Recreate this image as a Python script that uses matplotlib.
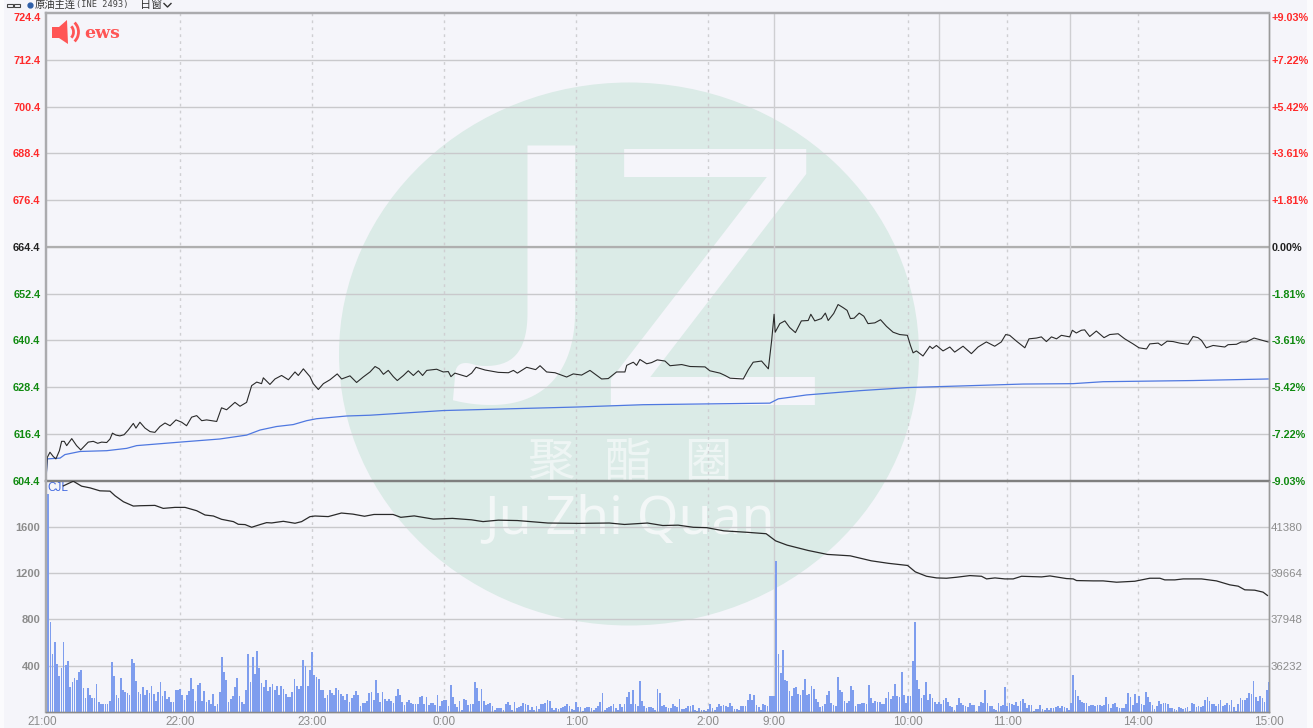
import numpy as np
import matplotlib
matplotlib.use("Agg")
import matplotlib.pyplot as plt
from matplotlib.patches import Ellipse, Rectangle, Polygon, Arc
from matplotlib.transforms import ScaledTranslation

# minutes of trading since 21:00
price_min = [0, 0.3, 0.6, 1.8, 3.3, 4.5, 6.1, 7.1, 8.3, 9.4, 11.7, 13.9, 15.8, 17.7, 19.2, 21.5, 23.5, 25.3, 27.6, 29.1,
             30.2, 31.8, 33.6, 35.5, 37.4, 39.7, 40.9, 42.7, 45, 47.3, 49.5, 51.8, 54.1, 56.4, 59.1, 61.7, 63.9, 66.2, 68.5, 70.8,
             73, 77.6, 79.8, 82.1, 85.9, 88.2, 91.2, 93.5, 95.8, 98, 98.8, 101.8, 104.1, 107.1, 110.2, 113.2, 114.7, 117, 120, 121.5,
             123.8, 126.1, 129.1, 132.4, 134.4, 138.2, 141.2, 144.2, 147.3, 149.6, 151.5, 153.4, 155.6, 157.9, 159.7, 162.5, 164.7, 167, 169.3, 171.2,
             173.1, 177.6, 180.6, 182.9, 184.1, 185.9, 191.2, 193.5, 195.5, 199.6, 205.6, 210.2, 212.5, 214.3, 218.5, 222.6, 224.6, 227.6, 231.4, 236.7,
             239.7, 243.5, 247.3, 252.6, 255.6, 259.4, 263.2, 264, 267, 268.5, 270, 273.1, 275.3, 277.9, 281.4, 283.7, 289, 292.8, 299.6, 301.8,
             306.4, 308.7, 311, 317, 319.3, 321.5, 325.3, 328.4, 329.9, 331, 331.5, 333.6, 335.9, 338.1, 340.7, 343.4, 346.5, 347.7, 349.5, 352.5,
             354.3, 355.6, 358.1, 360.1, 362.4, 364.2, 365.7, 367.4, 369.7, 371.8, 373.7, 376.8, 379.4, 382.1, 385.1, 388.1, 391.6, 393, 394.2, 395.7,
             398.7, 401.8, 403, 404.8, 407.8, 410.9, 413.1, 416.9, 420.7, 423.7, 427.5, 431.3, 434.3, 436.3, 438.1, 441.2, 445, 446.9, 450.3, 452.5,
             454.8, 457.1, 459.4, 461.6, 465.4, 466.6, 468.4, 470.7, 472.2, 474.5, 477.5, 481, 483.6, 487.4, 490.4, 494.2, 496.9, 500.3, 501.8, 505.6,
             507.1, 509.7, 512.4, 515.4, 519.2, 521.5, 523.7, 525.3, 527.5, 530.6, 535.9, 537.4, 541.2, 543.4, 545.7, 549.2, 551.8, 555.6]
price = [604.8, 607.4, 610.4, 611.7, 610.6, 610.0, 612.1, 614.5, 614.5, 613.4, 615.2, 613.4, 612.3, 613.4, 614.3, 614.5, 614.0, 614.3, 614.2, 615.1,
         616.6, 616.1, 615.9, 616.2, 617.4, 619.1, 617.9, 619.4, 617.9, 617.0, 616.8, 618.3, 619.2, 618.5, 620.0, 619.4, 618.5, 620.7, 621.1, 619.8,
         620.0, 619.6, 623.1, 622.6, 624.5, 623.5, 624.5, 628.8, 629.7, 629.3, 630.8, 629.1, 630.5, 631.4, 630.3, 632.3, 631.4, 633.1, 631.1, 629.3,
         627.8, 629.3, 630.3, 631.8, 630.5, 631.3, 629.6, 631.0, 632.3, 633.7, 633.1, 631.7, 632.7, 631.1, 630.1, 631.4, 632.6, 631.4, 632.6, 631.4,
         632.7, 633.0, 632.3, 632.4, 631.1, 632.0, 631.1, 632.0, 633.5, 632.8, 632.2, 632.1, 632.7, 632.0, 633.5, 632.9, 633.9, 632.3, 632.1, 631.0,
         631.8, 631.5, 632.7, 630.5, 630.6, 632.3, 632.3, 634.0, 634.8, 634.0, 635.5, 634.4, 634.7, 635.4, 635.1, 633.9, 634.2, 633.7, 633.6, 632.6,
         632.0, 631.4, 630.7, 630.5, 632.9, 634.8, 635.1, 633.1, 640.4, 647.1, 642.5, 644.7, 645.4, 643.7, 642.4, 645.4, 645.5, 647.1, 645.4, 646.0,
         647.4, 645.5, 647.3, 649.6, 648.8, 648.1, 646.0, 646.1, 647.4, 646.6, 644.7, 644.9, 645.7, 644.0, 642.5, 641.9, 641.7, 639.1, 637.2, 637.7,
         636.4, 638.9, 638.3, 639.1, 637.7, 638.7, 637.4, 638.9, 637.0, 638.7, 640.0, 638.9, 640.0, 641.9, 641.7, 640.2, 638.5, 640.8, 641.0, 641.3,
         640.1, 641.3, 640.8, 641.7, 641.3, 643.0, 642.3, 643.0, 643.1, 641.4, 642.8, 641.1, 641.9, 642.1, 640.8, 639.5, 638.5, 638.2, 639.5, 639.7,
         639.1, 640.2, 640.1, 639.7, 639.4, 641.4, 641.1, 640.4, 638.5, 639.1, 638.7, 639.3, 639.4, 640.0, 640.0, 641.0, 640.6, 640.0]

avg_min = [0, 0.6, 6.4, 8.6, 15.5, 27.6, 36.7, 41.2, 60.9, 79, 91.2, 97.3, 104.8, 112.4, 118.5, 123, 136.7, 147.3, 180.6, 241.2,
           271.5, 329.1, 332.9, 338.2, 345.7, 370, 391.9, 415.4, 444.2, 466.9, 480.6, 521.5, 555.6]
avg_price = [604.8, 610.0, 610.2, 611.1, 611.9, 612.1, 612.7, 613.4, 614.3, 615.1, 616.1, 617.4, 618.3, 618.8, 619.8, 620.3, 621.0, 621.2, 622.4, 623.3,
             623.9, 624.3, 625.4, 625.8, 626.4, 627.5, 628.3, 628.7, 629.2, 629.3, 629.8, 630.1, 630.5]

# open interest, right hand scale of the lower panel
oi_min = [7.9, 12.4, 16.2, 20, 24.5, 29.1, 31.4, 35.2, 39.7, 42.7, 49.5, 53.3, 58.6, 63.2, 68.5, 72.3, 76.1, 79.8, 85.2, 87.4,
          90.5, 93.5, 97.3, 100.3, 102.6, 107.9, 113.2, 116.2, 120, 122.3, 128.3, 134.3, 139.5, 144.8, 149.1, 157.8, 161.3, 167.4, 176.1, 184.8,
          193.4, 198.7, 205.6, 214.3, 228.2, 242.1, 256.1, 263, 273.4, 280.4, 287.4, 294.3, 300.4, 308.2, 318.7, 327.4, 331.7, 336.9, 346.5, 355.2,
          365.6, 375.2, 383, 391.7, 395.2, 400.3, 404.9, 409.4, 414, 420, 425.3, 427.6, 431.4, 435.9, 439.7, 443.5, 452.6, 456.4, 463.9, 467,
          468.5, 476.1, 480.6, 486.7, 495, 501.8, 506.4, 508.6, 513.2, 517, 525.3, 532.1, 538.2, 542, 545, 549.5, 553.3, 555.3]
oi = [42888, 43060, 42876, 42814, 42704, 42692, 42520, 42300, 42140, 42152, 42165, 42054, 42091, 42091, 41968, 41809, 41772, 41650, 41564, 41466,
      41454, 41355, 41454, 41527, 41515, 41576, 41503, 41564, 41748, 41772, 41750, 41882, 41842, 41763, 41829, 41829, 41723, 41776, 41657, 41684,
      41631, 41565, 41618, 41604, 41512, 41499, 41512, 41459, 41512, 41420, 41433, 41354, 41340, 41222, 41169, 41116, 40852, 40694, 40496, 40350,
      40298, 40113, 40020, 39941, 39704, 39541, 39480, 39468, 39505, 39566, 39541, 39443, 39480, 39443, 39443, 39541, 39517, 39554, 39456, 39443,
      39382, 39370, 39370, 39321, 39357, 39468, 39468, 39407, 39407, 39443, 39443, 39370, 39223, 39174, 39039, 39026, 38953, 38830]

# volume per minute, four stretches read one after the other
vol_night1 = [150, 1885, 778, 502, 600, 416, 307, 380, 608, 408, 436, 212, 255, 293, 278, 344, 365, 207, 120, 207, 150, 120, 120, 244, 83, 72, 72, 70, 72, 98,
              430, 313, 150, 120, 293, 192, 170, 165, 150, 460, 425, 270, 170, 158, 215, 150, 192, 165, 221, 155, 98, 170, 258, 140, 178, 112, 126, 89, 89, 192,
              192, 200, 143, 106, 143, 178, 293, 200, 92, 235, 250, 98, 178, 83, 106, 70, 158, 55, 70, 170, 476, 344, 273, 83, 112, 135, 212, 296, 135, 83,
              72, 192, 500, 258, 476, 330, 528, 382, 250, 212, 278, 178, 215, 241, 192, 227, 150, 221, 198, 158, 129, 129, 170, 284, 221, 200, 227, 445, 400, 221,
              365, 520, 316, 301, 284, 192, 187, 118, 150]
vol_night2 = [192, 164, 150, 207, 187, 155, 135, 106, 155, 83, 120, 150, 184, 144, 55, 80, 80, 98, 164, 169, 106, 273, 164, 83, 169, 115, 92, 112, 98, 77,
              135, 201, 150, 86, 63, 83, 106, 77, 69, 66, 66, 129, 141, 72, 126, 63, 77, 80, 63, 149, 49, 92, 103, 106, 55, 235, 126, 72, 43, 92,
              14, 112, 106, 63, 72, 72, 258, 207, 92, 198, 92, 63, 72, 77, 49, 14, 34, 37, 32, 14, 66, 89, 63, 20, 83, 34, 43, 55, 80, 72,
              63, 14, 43, 14, 52, 29, 72, 69, 77, 106, 98, 32, 14, 34, 26, 34, 40, 55, 72, 55, 29, 20, 83, 40, 40, 11, 34, 40, 43, 32,
              20, 34, 49, 89, 164, 14, 34, 43, 49, 69, 34, 20, 72, 40, 69, 126, 169, 72, 192, 72, 49, 264, 98, 49, 32, 40, 43, 34, 14, 198, 106]
vol_morning = [164, 49, 63, 40, 34, 37, 69, 49, 43, 112, 29, 26, 32, 49, 55, 63, 20, 11, 32, 14, 14, 6, 29, 72, 34, 20, 43, 69, 49, 63,
               49, 43, 77, 49, 29, 26, 20, 49, 55, 55, 100, 155, 100, 146, 63, 40, 20, 72, 57, 49, 140, 140, 140, 1306, 502, 336, 537, 278, 264, 178,
               140, 207, 212, 155, 149, 192, 284, 143, 155, 221, 201, 115, 83, 43, 49, 69, 149, 184, 77, 60, 55, 301, 192, 169, 98, 77, 98, 221, 192, 55,
               69, 69, 77, 75, 72, 235, 118, 75, 95, 89, 86, 66, 66, 118, 172, 112, 140, 241, 140, 126, 344, 146, 80, 138, 135, 442, 775, 278, 201, 123,
               149, 258, 106, 158, 120, 86, 69, 83, 69, 100, 118, 86, 49, 40, 20, 63, 118, 75, 57, 49, 43, 75, 63, 57, 11, 55, 89, 77, 192, 77, 49]
vol_day = [60, 20, 55, 29, 20, 80, 49, 60, 215, 49, 80, 69, 60, 89, 49, 98, 115, 75, 37, 57, 63, 9, 23, 29, 60, 26, 20, 34, 17, 37,
           37, 40, 55, 37, 52, 43, 37, 20, 75, 316, 192, 141, 106, 89, 77, 77, 55, 63, 60, 55, 57, 60, 52, 60, 126, 69, 34, 69, 77, 43,
           34, 37, 37, 72, 164, 126, 63, 155, 80, 141, 66, 60, 175, 126, 89, 57, 26, 52, 95, 72, 75, 80, 72, 37, 37, 26, 14, 43, 34, 29,
           37, 43, 11, 77, 72, 43, 52, 43, 52, 106, 132, 98, 69, 69, 55, 72, 106, 49, 60, 77, 63, 103, 43, 11, 66, 120, 103, 106, 123, 164,
           155, 270, 126, 95, 141, 120, 83, 192, 255]
vol_starts = [0, 129, 279, 428]

price_ticks = [724.4, 712.4, 700.4, 688.4, 676.4, 664.4, 652.4, 640.4, 628.4, 616.4, 604.4]
pct_labels = ["+9.03%", "+7.22%", "+5.42%", "+3.61%", "+1.81%", "0.00%", "-1.81%", "-3.61%", "-5.42%", "-7.22%", "-9.03%"]
vol_ticks = [400, 800, 1200, 1600]
oi_ticks = [36232, 37948, 39664, 41380]
time_pos = [0, 61, 121, 181, 241, 301, 331, 392, 437, 496.5, 556]
time_labels = ["21:00", "22:00", "23:00", "0:00", "1:00", "2:00", "9:00", "10:00", "11:00", "14:00", "15:00"]
dash_times = [61, 121, 181, 241, 301, 392, 437, 496.5]
solid_times = [331, 406, 465.5]

plt.rcParams['font.family'] = ['Liberation Sans', 'Noto Sans CJK SC', 'DejaVu Sans']

W, H = 1313, 728
BG = "#F5F5FA"
GRID = "#C9C9CC"
EDGE = "#ABABAE"
RED = "#FF2A2A"
GREEN = "#108A10"
GREY = "#8C8C8C"
BLUE = "#4169E1"

fig = plt.figure(figsize=(W / 100, H / 100), dpi=100, facecolor="#FBFBFD")

# backdrop in pixel coordinates: page colour, watermark, logo and header
back = fig.add_axes([0, 0, 1, 1], zorder=0)
back.set_xlim(0, W)
back.set_ylim(H, 0)
back.axis("off")
back.add_patch(Rectangle((4, 0), 1303, H, fc=BG, ec="none"))
back.add_patch(Ellipse((629, 354), 580, 543, fc="#DBEBE7", ec="none"))
back.text(600, 402, "J", color=BG, fontsize=255, family="Lato", weight="bold", ha="right", va="baseline")
back.text(598, 405, "Z", color=BG, fontsize=268, family="Liberation Sans", ha="left", va="baseline")
for cx, ch in zip([551, 629, 708], "聚酯圈"):
    back.text(cx, 464, ch, color="#EEF5F4", fontsize=34, family="Noto Sans CJK SC", ha="center", va="center")
back.text(629, 520, "Ju Zhi Quan", color="#F3F7F7", fontsize=38.5, family="Noto Sans", ha="center", va="center")

back.add_patch(Polygon([(52, 27), (59, 27), (67, 20), (68, 44), (59, 38), (52, 38)], fc="#FF5555", ec="none"))
back.add_patch(Arc((68, 32), 11, 14, theta1=-60, theta2=60, ec="#FF5555", lw=2))
back.add_patch(Arc((68, 32), 21, 24, theta1=-55, theta2=55, ec="#FF5555", lw=2))
back.text(84, 38, "ews", color="#FF5555", fontsize=12.5, family="DejaVu Serif", weight="bold", ha="left", va="baseline")

back.add_patch(Rectangle((7, 3.5), 6, 3, fc="none", ec="#444444", lw=0.8))
back.add_patch(Rectangle((14, 3.5), 6, 3, fc="none", ec="#444444", lw=0.8))
back.plot([29.5], [5], "o", ms=3.5, color="#2F5FA8")
back.text(35, 5, "原油主连", color="#333333", fontsize=7.4, ha="left", va="center")
back.text(76, 5, "(INE 2493)", color="#444444", fontsize=6.2, family="DejaVu Sans Mono", ha="left", va="center")
back.text(140, 5, "日窗", color="#333333", fontsize=8, ha="left", va="center")
back.plot([164, 167.5, 171], [3.5, 7, 3.5], color="#333333", lw=1)

# upper panel, prices
left, right, top, mid, bottom = 46, 1269, 13, 480.7, 712
ax = fig.add_axes([left / W, 1 - mid / H, (right - left) / W, (mid - top) / H], zorder=1, facecolor="none")
ax.set_xlim(0, 556)
ax.set_ylim(604.4, 724.3)
for t in price_ticks[1:-1]:
    ax.axhline(t, color=GRID, lw=1, zorder=1)
ax.axhline(664.4, color="#AFAFAF", lw=1.6, zorder=1)
ax.plot(avg_min, avg_price, color="#4F78E0", lw=0.9, zorder=3)
ax.plot(price_min, price, color="#2A2A2A", lw=0.8, zorder=4)
ax.set_xticks([])
ax.set_yticks(price_ticks)
ax.tick_params(axis="y", length=0, pad=4)
for lab, t in zip(ax.set_yticklabels(["%.1f" % t for t in price_ticks]), price_ticks):
    lab.set_fontsize(7.8)
    lab.set_fontweight("bold")
    lab.set_color(RED if t > 664.4 else ("#222222" if t == 664.4 else GREEN))
    if t == 724.4:
        lab.set_va("top")

ax_r = ax.twinx()
ax_r.set_ylim(ax.get_ylim())
ax_r.set_zorder(2)
ax_r.set_yticks(price_ticks)
ax_r.tick_params(axis="y", length=0, pad=2)
for lab, t in zip(ax_r.set_yticklabels(pct_labels), price_ticks):
    lab.set_fontsize(7.8)
    lab.set_fontweight("bold")
    lab.set_color(RED if t > 664.4 else ("#222222" if t == 664.4 else GREEN))
    if t == 724.4:
        lab.set_va("top")

# lower panel, volume and open interest
ax2 = fig.add_axes([left / W, 1 - bottom / H, (right - left) / W, (bottom - mid) / H], zorder=1, facecolor="none")
ax2.set_xlim(0, 556)
ax2.set_ylim(0, 1996)
for t in vol_ticks:
    ax2.axhline(t, color=GRID, lw=1, zorder=1)
for start, vals in zip(vol_starts, [vol_night1, vol_night2, vol_morning, vol_day]):
    ax2.bar(np.arange(len(vals)) + start, vals, width=0.8, color="#7E9DEE", zorder=3)
ax2.set_xticks(time_pos)
ax2.set_xticklabels(time_labels, fontsize=8.5, color=GREY)
ax2.set_yticks(vol_ticks)
ax2.set_yticklabels([str(t) for t in vol_ticks], fontsize=8, fontweight="bold", color=GREY)
ax2.tick_params(axis="x", length=0, pad=3)
ax2.tick_params(axis="y", length=0, pad=4)
first = ax2.get_xticklabels()[0]
first.set_transform(first.get_transform() + ScaledTranslation(-4 / 100, 0, fig.dpi_scale_trans))
ax2.text(0.5, 1930, "CJL", color=BLUE, fontsize=8.5, ha="left", va="center", zorder=5)

ax2_r = ax2.twinx()
ax2_r.set_zorder(2)
# 1716 lots of open interest per 400 of volume grid
ax2_r.set_ylim(34516, 43079)
ax2_r.plot(oi_min, oi, color="#2A2A2A", lw=0.9, zorder=4)
ax2_r.set_yticks(oi_ticks)
ax2_r.set_yticklabels([str(t) for t in oi_ticks], fontsize=8.2, color=GREY)
ax2_r.tick_params(axis="y", length=0, pad=1)

for a in (ax, ax2):
    for t in dash_times:
        a.axvline(t, color="#CFCFD2", lw=1, ls=(0, (2, 3)), zorder=1)
    for t in solid_times:
        a.axvline(t, color="#CFCFD2", lw=1, zorder=1)

for a in (ax, ax_r, ax2, ax2_r):
    a.spines["left"].set(color=EDGE, lw=1.6)
    a.spines["right"].set(color="#9A9A9A", lw=1)
ax.spines["top"].set(color=EDGE, lw=1.6)
ax_r.spines["top"].set(color=EDGE, lw=1.6)
for a in (ax, ax_r):
    a.spines["bottom"].set(color="#7F7F7F", lw=1.6)
for a in (ax2, ax2_r):
    a.spines["top"].set_visible(False)
    a.spines["bottom"].set(color="#8A8A8A", lw=1)

fig.savefig("out.png", dpi=100, facecolor=fig.get_facecolor())
